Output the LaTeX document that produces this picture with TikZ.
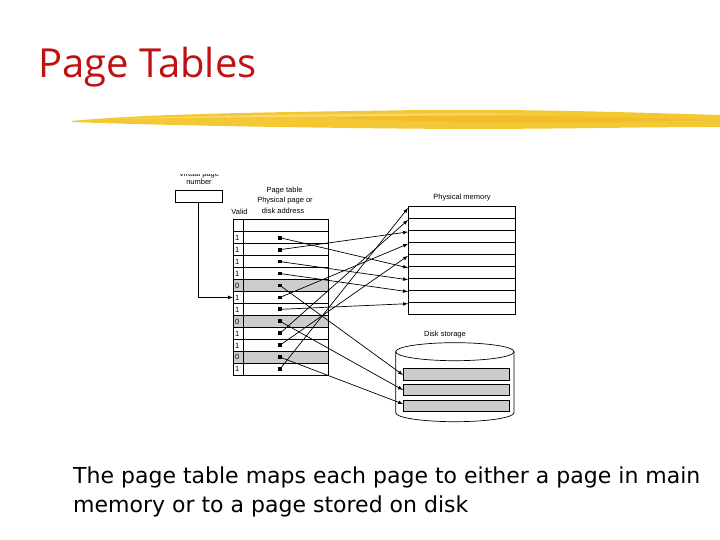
\documentclass[tikz,border=0pt]{standalone}
\usepackage{fontspec}
\setmainfont{DejaVu Sans}
\newfontfamily\figfont{Liberation Sans}
\newfontfamily\titlefont{Open Sans}
\usetikzlibrary{arrows}

\definecolor{titlered}{RGB}{192,16,16}
\definecolor{brush}{RGB}{244,200,50}
\definecolor{rowgray}{RGB}{204,204,204}

\begin{document}
\begin{tikzpicture}[x=1pt,y=-1pt,
    lbl/.style={font=\figfont\fontsize{7.5}{8}\selectfont, inner sep=0pt},
    map/.style={-latex, line width=0.7pt},
    grid/.style={line width=0.7pt}]

\useasboundingbox (0,0) rectangle (720,540);

\node[anchor=base west, text=titlered, inner sep=0pt,
      font=\titlefont\fontsize{40}{44}\selectfont] (title) at (38,78) {Page Tables};

% brush stroke under the title
\fill[brush] (72,121) .. controls (150,113) and (300,112) .. (420,110)
    .. controls (540,109) and (650,113) .. (720,115) -- (720,127)
    .. controls (640,127) and (560,129) .. (460,129)
    .. controls (300,128) and (150,125) .. (72,122) -- cycle;
\fill[brush!70!orange, opacity=0.5] (330,118) .. controls (450,114) and (600,116) .. (715,120)
    .. controls (600,123) and (450,124) .. (330,118) -- cycle;
\fill[brush!50!white, opacity=0.6] (110,119) .. controls (250,114) and (400,113) .. (560,114)
    .. controls (400,116) and (250,117) .. (110,119) -- cycle;

% virtual page number
\begin{scope}
\clip (150,174.5) rectangle (540,430);
\node[lbl, anchor=base] (vplbl) at (199,176.5) {Virtual page};
\end{scope}
\node[lbl, anchor=base] (numlbl) at (199,184.5) {number};
\node[draw, grid, minimum width=47.3pt, minimum height=12.3pt, inner sep=0pt] (vpn) at (198.7,196.2) {};

% page table
\node[lbl] (ptlbl) at (284.5,190.5) {Page table};
\node[lbl] (pplbl) at (285,201) {Physical page or};
\node[lbl] (dalbl) at (283,211) {disk address};
\node[lbl] (validlbl) at (239.5,211.5) {Valid};

\foreach \v [count=\i from 0] in {1,1,1,1,0,1,1,0,1,1,0,1} {
    \pgfmathsetmacro\yt{231.7+11.94*\i}
    \ifnum\v=0
        \fill[rowgray] (233,\yt) rectangle (328,\yt+11.94);
    \fi
    \coordinate (v\i) at (233,\yt+6);
    \coordinate (d\i) at (280,\yt+6);
    \node[lbl, anchor=west] (val\i) at (235,\yt+6.3) {\v};
}
\draw[grid] (233,219) rectangle (328,375);
\draw[grid] (243,219) -- (243,375);
\foreach \i in {0,...,11}
    \draw[grid] (233,231.7+11.94*\i) -- (328,231.7+11.94*\i);
\foreach \i in {0,...,11}
    \fill ([shift={(-1.9,-1.9)}]d\i) rectangle +(3.8,3.8);

\draw[map] (vpn.south) |- (v5);

% physical memory
\node[lbl] (pmlbl) at (462,197.5) {Physical memory};
\draw[grid] (408,206.7) rectangle (515,314.3);
\foreach \j in {1,...,8}
    \draw[grid] (408,206.7+11.96*\j) -- (515,206.7+11.96*\j);
\foreach \j in {0,...,8}
    \coordinate (m\j) at (408,208+11.96*\j);

% disk storage
\node[lbl] (dslbl) at (445,334.5) {Disk storage};
\draw[grid] (454.85,351.7) ellipse (59.15pt and 9pt);
\draw[grid] (395.7,351.7) -- (395.7,412.7) arc (180:360:59.15pt and 9pt) -- (514,351.7);
\foreach \k/\y in {0/368.3,1/384,2/400}
    \filldraw[grid, fill=rowgray] (403.3,\y) rectangle (509.3,\y+11.7);
\coordinate (s0) at (403,375);
\coordinate (s1) at (403,390);
\coordinate (s2) at (403,404);

% mappings
\foreach \a/\b in {0/5,1/2,2/6,3/7,5/3,6/8,8/1,9/4,11/0}
    \draw[map] (d\a) -- (m\b);
\foreach \a/\b in {4/0,7/1,10/2}
    \draw[map] (d\a) -- (s\b);

\node[anchor=base west, inner sep=0pt, font=\fontsize{22}{29}\selectfont] (cap1) at (73,483)
    {The page table maps each page to either a page in main};
\node[anchor=base west, inner sep=0pt, font=\fontsize{22}{29}\selectfont] (cap2) at (73,512)
    {memory or to a page stored on disk};

\end{tikzpicture}
\end{document}
